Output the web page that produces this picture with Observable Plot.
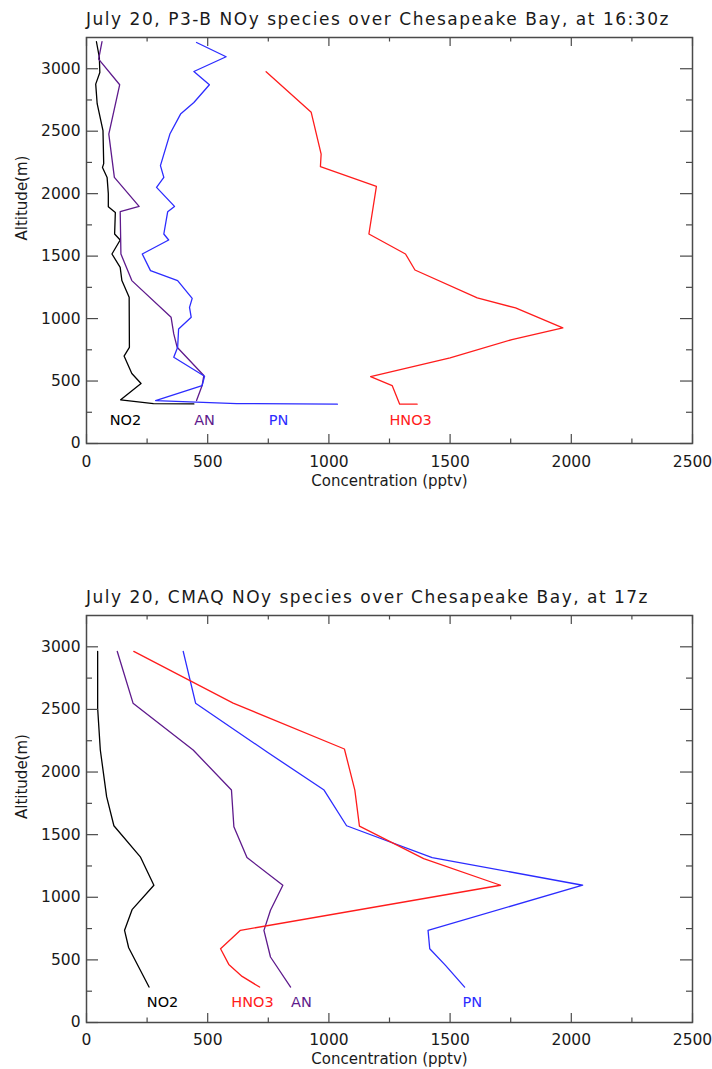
<!DOCTYPE html>
<html><head><meta charset="utf-8">
<script src="https://cdn.jsdelivr.net/npm/d3@7"></script>
<script src="https://cdn.jsdelivr.net/npm/@observablehq/plot@0.6"></script>
<style>
body{margin:0;background:#fff;width:712px;height:1069px;position:relative;overflow:hidden;font-family:"DejaVu Sans",sans-serif;}
.title{position:absolute;left:86px;font-size:17px;line-height:20px;color:#1a1a1a;white-space:nowrap;}
.chart{position:absolute;left:0;}
</style></head><body>
<div class="title" id="t1" style="top:9px">July 20, P3-B NOy species over Chesapeake Bay, at 16:30z</div>
<div class="chart" id="c1" style="top:30px"></div>
<div class="title" id="t2" style="top:587px">July 20, CMAQ NOy species over Chesapeake Bay, at 17z</div>
<div class="chart" id="c2" style="top:608px"></div>
<script>
// ---- tick labels ----
const xTickLabels = [0, 500, 1000, 1500, 2000, 2500];
const xMinorTicks = [250, 750, 1250, 1750, 2250];
const yTickLabels = [0, 500, 1000, 1500, 2000, 2500, 3000];
const yMinorTicks = [250, 750, 1250, 1750, 2250, 2750];
const seriesNames = ["NO2", "AN", "PN", "HNO3"];

// ---- P3-B observations: [concentration pptv, altitude m] ----
const p3bNO2 = [[41,3216],[53,3090],[55,2970],[38,2877],[44,2720],[68,2504],[71,2240],[66,2210],[85,2130],[90,2000],[90,1896],[119,1850],[116,1677],[139,1629],[105,1517],[139,1410],[146,1304],[176,1170],[177,770],[155,700],[187,560],[225,480],[141,350],[276,320],[443,317]];
const p3bAN = [[64,3216],[50,3077],[137,2872],[92,2477],[115,2130],[217,1898],[139,1856],[142,1517],[187,1304],[349,1010],[360,877],[374,770],[484,544],[477,464],[454,344]];
const p3bPN = [[454,3210],[576,3096],[443,2978],[507,2872],[443,2730],[388,2637],[344,2477],[305,2224],[319,2130],[289,2050],[363,1898],[335,1856],[319,1677],[339,1629],[230,1517],[264,1384],[376,1304],[436,1162],[425,1090],[432,1010],[380,917],[376,770],[360,690],[487,538],[477,464],[285,344],[620,320],[1035,315]];
const p3bHNO3 = [[741,2976],[927,2651],[968,2317],[965,2216],[1196,2059],[1165,1677],[1316,1517],[1355,1389],[1612,1165],[1770,1085],[1965,925],[1755,832],[1500,685],[1172,536],[1261,464],[1292,315],[1364,315]];
const p3bLabelConc = [161, 487, 792, 1337];
const p3bLabelAlt = [184, 184, 184, 184];

// ---- CMAQ model ----
const cmaqNO2 = [[46,2963],[46,2509],[57,2176],[83,1803],[113,1571],[222,1323],[278,1096],[188,901],[157,736],[174,597],[258,283]];
const cmaqAN = [[127,2963],[192,2550],[440,2176],[598,1856],[608,1563],[662,1317],[810,1096],[759,896],[732,736],[759,523],[842,283]];
const cmaqPN = [[399,2963],[450,2550],[745,2160],[980,1856],[1073,1571],[1426,1317],[2047,1096],[1409,736],[1416,589],[1481,456],[1560,283]];
const cmaqHNO3 = [[195,2963],[605,2550],[1064,2184],[1107,1856],[1126,1568],[1391,1309],[1708,1096],[635,736],[553,589],[587,464],[642,368],[714,283]];
const cmaqLabelConc = [314, 887, 1592, 685];
const cmaqLabelAlt = [160, 160, 160, 160];

const colors = {NO2: "#000000", AN: "#5e1a8c", PN: "#2c2cff", HNO3: "#ff1c1c"};

function chart(series, labelConc, labelAlt, height, marginBottom, xLabelDy, tickPad) {
  const W = 712, mL = 86, mR = 20, mT = 7;
  const innerW = W - mL - mR, innerH = height - mT - marginBottom;
  const axisColor = "#4a4a4a";
  const marks = [];
  seriesNames.forEach((name, i) => {
    marks.push(Plot.line(series[i], {x: d => d[0], y: d => d[1], stroke: colors[name], strokeWidth: 1.3}));
    marks.push(Plot.text([name], {x: () => labelConc[i], y: () => labelAlt[i], text: d => d, fill: colors[name], fontSize: 14.5, textAnchor: "middle", lineAnchor: "middle"}));
  });
  marks.push(
    Plot.frame({stroke: axisColor, strokeWidth: 1.5}),
    Plot.tickX(xTickLabels, {x: d => d, insetTop: innerH - 9, stroke: axisColor, strokeWidth: 1.2}),
    Plot.tickX(xMinorTicks, {x: d => d, insetTop: innerH - 4.5, stroke: axisColor, strokeWidth: 1.2}),
    Plot.tickX(xTickLabels, {x: d => d, insetBottom: innerH - 9, stroke: axisColor, strokeWidth: 1.2}),
    Plot.tickX(xMinorTicks, {x: d => d, insetBottom: innerH - 4.5, stroke: axisColor, strokeWidth: 1.2}),
    Plot.tickY(yTickLabels, {y: d => d, insetRight: innerW - 12, stroke: axisColor, strokeWidth: 1.2}),
    Plot.tickY(yMinorTicks, {y: d => d, insetRight: innerW - 6, stroke: axisColor, strokeWidth: 1.2}),
    Plot.tickY(yTickLabels, {y: d => d, insetLeft: innerW - 12, stroke: axisColor, strokeWidth: 1.2}),
    Plot.tickY(yMinorTicks, {y: d => d, insetLeft: innerW - 6, stroke: axisColor, strokeWidth: 1.2}),
    Plot.axisX(xTickLabels, {tickSize: 0, tickPadding: tickPad, label: null, fontSize: 15.5, fill: "#1a1a1a", tickFormat: d => String(d)}),
    Plot.axisY(yTickLabels, {tickSize: 0, tickPadding: 6, label: null, fontSize: 15.5, fill: "#1a1a1a", tickFormat: d => String(d)}),
    Plot.text(["Concentration (pptv)"], {frameAnchor: "bottom", dy: xLabelDy, text: d => d, fontSize: 15, fill: "#1a1a1a", lineAnchor: "middle"}),
    Plot.text(["Altitude(m)"], {frameAnchor: "left", dx: -64, rotate: -90, text: d => d, fontSize: 15, fill: "#1a1a1a", lineAnchor: "middle"})
  );
  return Plot.plot({
    width: W, height, marginLeft: mL, marginRight: mR, marginTop: mT, marginBottom,
    style: {fontFamily: "'DejaVu Sans', sans-serif", background: "#fff", overflow: "visible"},
    x: {domain: [0, 2500]},
    y: {domain: [0, 3250]},
    marks
  });
}

document.getElementById("c1").append(chart([p3bNO2, p3bAN, p3bPN, p3bHNO3], p3bLabelConc, p3bLabelAlt, 470, 57, 38, 12));
document.getElementById("c2").append(chart([cmaqNO2, cmaqAN, cmaqPN, cmaqHNO3], cmaqLabelConc, cmaqLabelAlt, 461, 47, 37, 11));

function fit(id, target) {
  const el = document.getElementById(id);
  const w = el.getBoundingClientRect().width;
  const n = el.textContent.length;
  el.style.letterSpacing = ((target - w) / n) + "px";
}
fit("t1", 584);
fit("t2", 563);
</script>
</body></html>
